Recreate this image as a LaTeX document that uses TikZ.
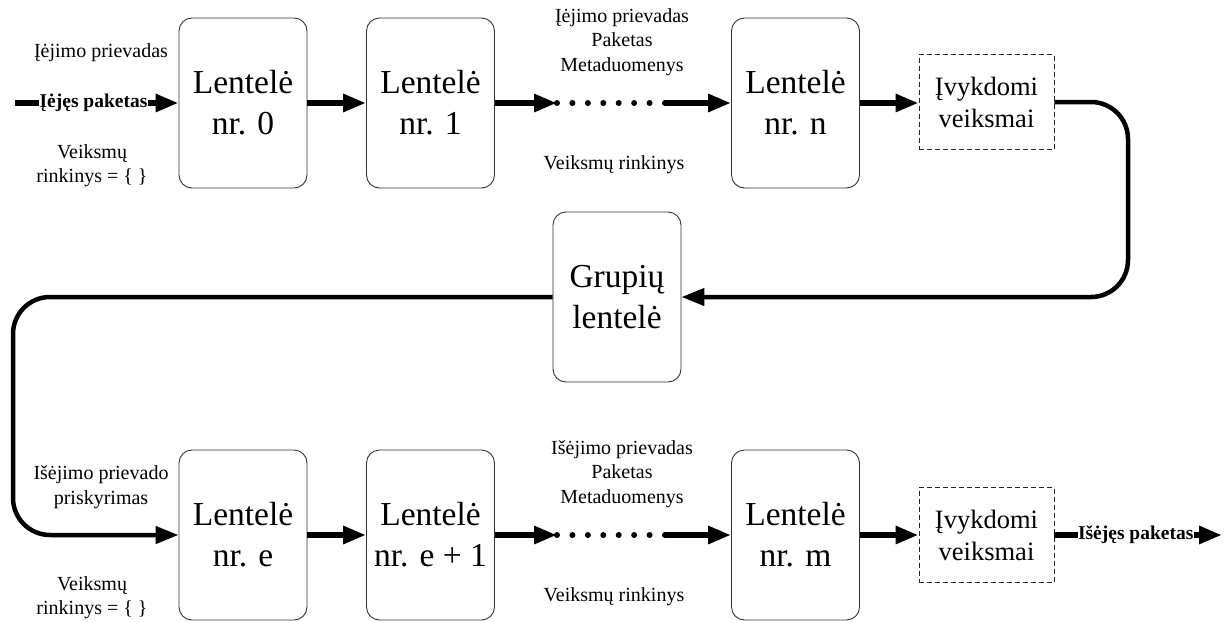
\documentclass[tikz,border=0pt]{standalone}
\usepackage{fontspec}
\setmainfont{Liberation Serif}
\newfontfamily\figserif{Liberation Serif}
\usetikzlibrary{arrows.meta}

\tikzset{
  table/.style={draw=black!80, line width=0.9pt, rounded corners=13pt,
    minimum width=128pt, minimum height=170pt, inner sep=0pt, align=center,
    font=\figserif\fontsize{33.5}{41}\selectfont},
  actbox/.style={draw=black!85, line width=0.9pt, dash pattern=on 5pt off 3pt,
    minimum width=135pt, minimum height=95pt, inner sep=0pt, align=center,
    font=\figserif\fontsize{26.5}{32}\selectfont},
  lbl/.style={align=center, inner sep=0pt, font=\figserif\fontsize{20}{24.5}\selectfont},
  pkt/.style={fill=white, inner xsep=0.5pt, inner ysep=1pt, font=\figserif\bfseries\fontsize{19.5}{22}\selectfont},
  flow/.style={line width=6pt, -{Triangle[length=23pt,width=17pt]}},
  loopline/.style={line width=4.5pt, rounded corners=37pt},
  dotmark/.style={circle, fill=black, inner sep=0pt, minimum size=6pt},
}

\begin{document}
\begin{tikzpicture}[x=1pt, y=-1pt]
  \useasboundingbox (0,0) rectangle (1228,621);

  % ---- ingress pipeline ----
  \node[table] (t0) at (243,103) {Lentelė\\nr. 0};
  \node[table] (t1) at (430.5,103) {Lentelė\\nr. 1};
  \node[table] (tn) at (795.5,103) {Lentelė\\nr. n};
  \node[actbox] (a1) at (986.5,102) {Įvykdomi\\veiksmai};

  \node[lbl] (inport) at (101,53) {Įėjimo prievadas};
  \node[lbl] (inset) at (92,165.5) {Veiksmų\\rinkinys = \{ \}};
  \node[lbl] (midin) at (622,42) {Įėjimo prievadas\\Paketas\\Metaduomenys};
  \node[lbl] (midinset) at (614,165) {Veiksmų rinkinys};

  \coordinate (src) at (15,103);
  \draw[flow] (src) -- (t0.west) node[pkt, pos=0.48] (inpkt) {Įėjęs paketas};
  \draw[flow] (t0.east) -- (t1.west);
  \coordinate (d1) at (557,103);
  \coordinate (d2) at (665,103);
  \draw[flow] (t1.east) -- (d1);
  \foreach \k in {0,...,7} \node[dotmark] (da\k) at (557+15.43*\k,103) {};
  \draw[flow] (d2) -- (tn.west);
  \draw[flow] (tn.east) -- (a1.west |- tn.east);

  % ---- group table ----
  \node[table] (grp) at (617,297) {Grupių\\lentelė};
  \coordinate (rr) at (1128,297);
  \coordinate (ll) at (13,297);
  \draw[loopline, -{Triangle[length=23pt,width=17pt]}] (a1.east) -| (rr) -- (grp.east);

  % ---- egress pipeline ----
  \node[table] (te) at (243,535) {Lentelė\\nr. e};
  \node[table] (te1) at (430.5,535) {Lentelė\\nr. e + 1};
  \node[table] (tm) at (795.5,535) {Lentelė\\nr. m};
  \node[actbox] (a2) at (986.5,535) {Įvykdomi\\veiksmai};

  \draw[loopline, -{Triangle[length=23pt,width=17pt]}] (grp.west) -- (ll) |- (te.west);

  \node[lbl] (outport) at (101,487) {Išėjimo prievado\\priskyrimas};
  \node[lbl] (outset) at (92,597.5) {Veiksmų\\rinkinys = \{ \}};
  \node[lbl] (midout) at (622,474) {Išėjimo prievadas\\Paketas\\Metaduomenys};
  \node[lbl] (midoutset) at (614,597) {Veiksmų rinkinys};

  \draw[flow] (te.east) -- (te1.west);
  \coordinate (e1) at (557,535);
  \coordinate (e2) at (665,535);
  \draw[flow] (te1.east) -- (e1);
  \foreach \k in {0,...,7} \node[dotmark] (db\k) at (557+15.43*\k,535) {};
  \draw[flow] (e2) -- (tm.west);
  \draw[flow] (tm.east) -- (a2.west);

  \coordinate (sink) at (1222,535);
  \draw[flow] (a2.east) -- (sink) node[pkt, pos=0.485] (outpkt) {Išėjęs paketas};
\end{tikzpicture}
\end{document}
